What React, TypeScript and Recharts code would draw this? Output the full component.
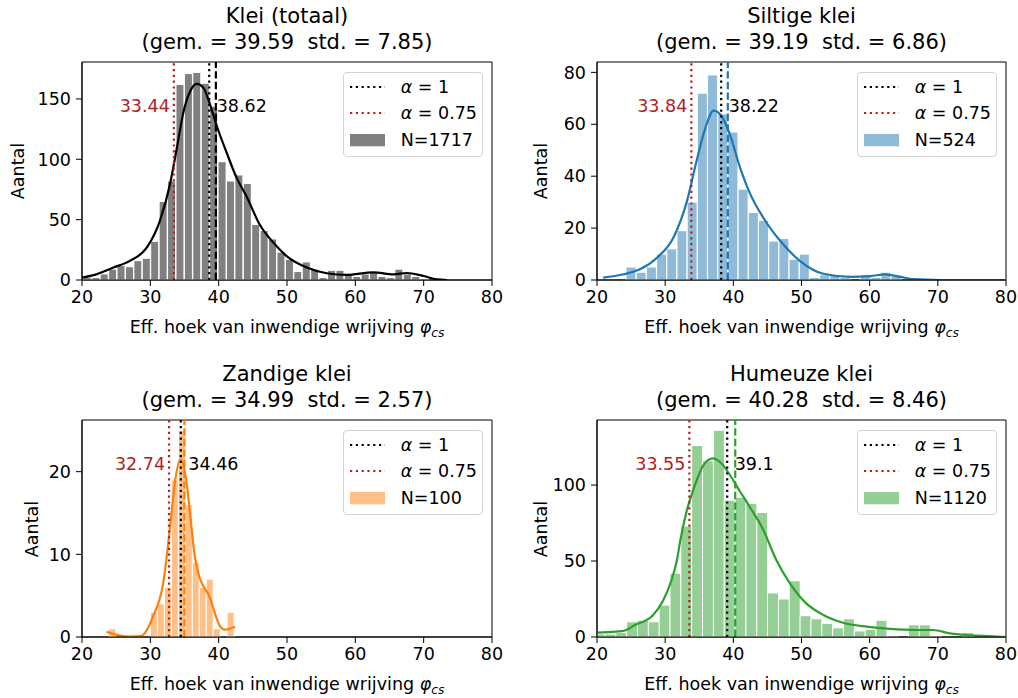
import React from 'react';
import { ComposedChart, Bar, Line, XAxis, YAxis, ReferenceLine, ReferenceArea } from 'recharts';

const FONT = '"DejaVu Sans", "Liberation Sans", sans-serif';
const FS = 17.5;
const TITLE_FS = 21;
const RED = '#b22222';

const xTicks = [20, 30, 40, 50, 60, 70, 80];
const xLabelMain = 'Eff. hoek van inwendige wrijving ';
const yLabelText = 'Aantal';

// ---------- Klei (totaal) ----------
const kleiTitle = 'Klei (totaal)';
const kleiStats = '(gem. = 39.59  std. = 7.85)';
const kleiN = 1717;
const kleiBinStart = 20.2;
const kleiBinWidth = 1.232;
const kleiCounts = [2, 2, 5, 9, 12, 11, 16, 18, 32, 65, 82, 162, 171, 172, 163, 144, 98, 82, 87, 80, 46, 41, 34, 23, 17, 7, 15, 9, 2, 8, 8, 5, 3, 5, 7, 3, 2, 9, 5, 3, 1];
const kleiKdeX = [20, 22.1, 24.6, 27.0, 29.5, 31.4, 32.9, 33.9, 34.8, 35.8, 36.8, 37.8, 38.7, 39.7, 41.2, 42.6, 44.1, 46.0, 48.0, 49.9, 52.9, 55.8, 58.7, 62.6, 65.6, 67.5, 70.0, 71.9, 73.4];
const kleiKdeY = [2, 4.7, 10.3, 15.8, 27, 49, 80, 110, 138, 156, 162.5, 159, 146, 128, 105, 85, 69, 46, 31, 20, 10.3, 5.6, 4.2, 6.4, 4.7, 5.8, 3.3, 0.5, 0];
const kleiYTicks = [0, 50, 100, 150];
const kleiYMax = 180.6;
const kleiAlpha1 = 38.62;
const kleiAlpha075 = 33.44;
const kleiMean = 39.59;

// ---------- Siltige klei ----------
const siltTitle = 'Siltige klei';
const siltStats = '(gem. = 39.19  std. = 6.86)';
const siltN = 524;
const siltBinStart = 24.26;
const siltBinWidth = 1.495;
const siltCounts = [5, 3, 5, 10, 12, 19, 30, 72, 79, 64, 57, 35, 26, 23, 15, 16, 8, 10, 1, 2, 2, 1, 0, 2, 1, 3, 2];
const siltKdeX = [20.9, 23.9, 26.3, 28.8, 31.2, 33.2, 34.6, 35.9, 37.1, 38.3, 39.5, 41.0, 42.5, 44.4, 46.9, 49.8, 53.2, 57.2, 60.1, 62.3, 64.5, 66.4, 70.3, 80];
const siltKdeY = [0.9, 2.2, 4.1, 8.6, 16.3, 30.4, 45.8, 58.6, 65.3, 63.1, 56, 43.2, 33, 24, 15, 7.3, 2.4, 1.2, 1.5, 2.2, 1.2, 0.3, 0, 0];
const siltYTicks = [0, 20, 40, 60, 80];
const siltYMax = 84;
const siltAlpha1 = 38.22;
const siltAlpha075 = 33.84;
const siltMean = 39.19;

// ---------- Zandige klei ----------
const zandTitle = 'Zandige klei';
const zandStats = '(gem. = 34.99  std. = 2.57)';
const zandN = 100;
const zandBinStart = 23.9;
const zandBinWidth = 1.02;
const zandCounts = [1, 0, 0, 0, 0, 0, 3, 4, 6, 19, 25, 16, 9, 6, 7, 1, 0, 3];
const zandKdeX = [23.6, 25.1, 27.0, 28.5, 29.0, 30.4, 31.9, 32.9, 33.6, 34.4, 35.3, 36.0, 36.5, 37.0, 38.7, 40.2, 40.9, 42.4];
const zandKdeY = [0.65, 0.25, 0.05, 0.1, 0.3, 2.5, 6.6, 13.4, 18.7, 21.5, 18.7, 13.4, 9.8, 7.8, 4.8, 1.3, 0.9, 1.25];
const zandYTicks = [0, 10, 20];
const zandYMax = 26.25;
const zandAlpha1 = 34.46;
const zandAlpha075 = 32.74;
const zandMean = 34.99;

// ---------- Humeuze klei ----------
const humTitle = 'Humeuze klei';
const humStats = '(gem. = 40.28  std. = 8.46)';
const humN = 1120;
const humBinStart = 19.58;
const humBinWidth = 1.59;
const humCounts = [2, 2, 3, 10, 11, 10, 21, 42, 73, 126, 116, 136, 90, 92, 88, 82, 29, 25, 37, 14, 12, 9, 6, 12, 4, 5, 11, 1, 0, 8, 8, 1, 0, 0, 3];
const humKdeX = [20, 22.8, 23.9, 25.5, 28.2, 29.7, 30.9, 31.7, 32.2, 33.1, 34.3, 35.6, 37.0, 38.3, 39.5, 41.0, 42.4, 44.4, 46.3, 48.3, 50.7, 53.2, 56.1, 59.6, 63.0, 66.9, 69.3, 71.8, 74.2, 76.7, 80];
const humKdeY = [2.9, 3.6, 4.0, 7.7, 14.3, 24, 37, 50, 63, 82, 99, 113, 117.5, 114, 106.6, 95.6, 85.7, 70.4, 50.7, 35.3, 22.1, 14.5, 9.4, 6.8, 5.3, 4.6, 4.6, 2.4, 1.3, 0.7, 0];
const humYTicks = [0, 50, 100];
const humYMax = 142.8;
const humAlpha1 = 39.1;
const humAlpha075 = 33.55;
const humMean = 40.28;

type PanelSpec = {
  title: string; stats: string; n: number;
  binStart: number; binWidth: number; counts: number[];
  kdeX: number[]; kdeY: number[];
  yTicks: number[]; yMax: number;
  alpha1: number; alpha075: number; mean: number;
  barColor: string; lineColor: string; meanColor: string;
  left: number; top: number; right: number; bottom: number; yLabelOffset: number;
};

const panels: PanelSpec[] = [
  { title: kleiTitle, stats: kleiStats, n: kleiN, binStart: kleiBinStart, binWidth: kleiBinWidth, counts: kleiCounts, kdeX: kleiKdeX, kdeY: kleiKdeY, yTicks: kleiYTicks, yMax: kleiYMax, alpha1: kleiAlpha1, alpha075: kleiAlpha075, mean: kleiMean, barColor: '#808080', lineColor: '#000000', meanColor: '#000000', left: 82, top: 62, right: 492, bottom: 280, yLabelOffset: 64 },
  { title: siltTitle, stats: siltStats, n: siltN, binStart: siltBinStart, binWidth: siltBinWidth, counts: siltCounts, kdeX: siltKdeX, kdeY: siltKdeY, yTicks: siltYTicks, yMax: siltYMax, alpha1: siltAlpha1, alpha075: siltAlpha075, mean: siltMean, barColor: '#8fbbd9', lineColor: '#1f77b4', meanColor: '#1f77b4', left: 597, top: 62, right: 1006, bottom: 280, yLabelOffset: 56 },
  { title: zandTitle, stats: zandStats, n: zandN, binStart: zandBinStart, binWidth: zandBinWidth, counts: zandCounts, kdeX: zandKdeX, kdeY: zandKdeY, yTicks: zandYTicks, yMax: zandYMax, alpha1: zandAlpha1, alpha075: zandAlpha075, mean: zandMean, barColor: '#ffbf86', lineColor: '#ff7f0e', meanColor: '#ff7f0e', left: 82, top: 420, right: 492, bottom: 637, yLabelOffset: 50 },
  { title: humTitle, stats: humStats, n: humN, binStart: humBinStart, binWidth: humBinWidth, counts: humCounts, kdeX: humKdeX, kdeY: humKdeY, yTicks: humYTicks, yMax: humYMax, alpha1: humAlpha1, alpha075: humAlpha075, mean: humMean, barColor: '#95cf95', lineColor: '#2ca02c', meanColor: '#2ca02c', left: 597, top: 420, right: 1006, bottom: 637, yLabelOffset: 56 },
];

const DOT = '2.2 3.6';
const DASH = '7.4 3.2';

function makeLabel(text: string, color: string, side: 'left' | 'right') {
  return (props: any) => {
    const vb = props.viewBox || { x: 0, y: 0, width: 0, height: 0 };
    const x = side === 'left' ? vb.x - 4 : vb.x + 7.5;
    const y = vb.y + vb.height * 0.2;
    return (
      <text x={x} y={y} dy="0.36em" textAnchor={side === 'left' ? 'end' : 'start'} fill={color} fontSize={FS} fontFamily={FONT}>
        {text}
      </text>
    );
  };
}

function PanelChart({ p }: { p: PanelSpec }) {
  const YW = 70, XH = 40, MT = 8, MR = 22;
  const plotW = p.right - p.left;
  const plotH = p.bottom - p.top;
  const bins = p.counts.map((c, i) => ({ x: p.binStart + (i + 0.5) * p.binWidth, count: c }));
  const kde = p.kdeX.map((x, i) => ({ x, kde: p.kdeY[i] }));
  const tickStyle = { fill: '#000', fontSize: FS, fontFamily: FONT };
  return (
    <div style={{ position: 'absolute', left: p.left - YW, top: p.top - MT }}>
      <ComposedChart
        width={YW + plotW + MR}
        height={MT + plotH + XH}
        data={bins}
        margin={{ top: MT, right: MR, bottom: 0, left: 0 }}
        barCategoryGap={0}
        barGap={0}
      >
        <XAxis xAxisId="main" type="number" dataKey="x" domain={[20, 80]} ticks={xTicks} allowDataOverflow interval={0} height={XH} tickSize={6} tickMargin={5} stroke="#000" tick={tickStyle} />
        <XAxis xAxisId="kde" orientation="top" height={0} type="number" dataKey="x" domain={[20, 80]} allowDataOverflow hide />
        <YAxis type="number" domain={[0, p.yMax]} ticks={p.yTicks} allowDataOverflow interval={0} width={YW} tickSize={6} tickMargin={5} stroke="#000" tick={tickStyle} />
        <Bar xAxisId="main" dataKey="count" fill={p.barColor} stroke="#ffffff" strokeWidth={1} isAnimationActive={false} />
        <Line xAxisId="kde" data={kde} dataKey="kde" type="monotone" stroke={p.lineColor} strokeWidth={2.2} dot={false} activeDot={false} isAnimationActive={false} />
        <ReferenceLine xAxisId="main" x={p.alpha1} stroke="#000" strokeWidth={2.2} strokeDasharray={DOT} label={makeLabel(String(p.alpha1), '#000', 'right')} />
        <ReferenceLine xAxisId="main" x={p.alpha075} stroke={RED} strokeWidth={2.2} strokeDasharray={DOT} label={makeLabel(String(p.alpha075), RED, 'left')} />
        <ReferenceLine xAxisId="main" x={p.mean} stroke={p.meanColor} strokeWidth={2.2} strokeDasharray={DASH} />
        <ReferenceArea xAxisId="main" x1={20} x2={80} y1={0} y2={p.yMax} fill="none" fillOpacity={0} stroke="#000" strokeWidth={1} />
      </ComposedChart>
    </div>
  );
}

function PanelText({ p }: { p: PanelSpec }) {
  const plotW = p.right - p.left;
  const cy = (p.top + p.bottom) / 2;
  const legW = 140, legH = 85;
  const legLeft = p.right - 9.3 - legW;
  const legTop = p.top + 9.7;
  const rows = [15, 41.7, 68.3];
  const textStyle: React.CSSProperties = { position: 'absolute', left: 57, fontSize: FS, lineHeight: '20px', whiteSpace: 'pre', color: '#000' };
  return (
    <>
      <div style={{ position: 'absolute', left: p.left, top: p.top - 58.6, width: plotW, textAlign: 'center', fontSize: TITLE_FS, lineHeight: '26px', whiteSpace: 'pre', color: '#000' }}>
        {p.title}
        {'\n'}
        {p.stats}
      </div>
      <div style={{ position: 'absolute', left: p.left, top: p.bottom + 37, width: plotW, textAlign: 'center', fontSize: FS, lineHeight: '20px', whiteSpace: 'pre', color: '#000' }}>
        {xLabelMain}
        <span style={{ fontStyle: 'italic' }}>φ</span>
        <span style={{ fontStyle: 'italic', fontSize: '0.7em', position: 'relative', top: '0.35em' }}>cs</span>
      </div>
      <div style={{ position: 'absolute', left: p.left - p.yLabelOffset - 50, top: cy - 10, width: 100, height: 20, textAlign: 'center', fontSize: FS, lineHeight: '20px', transform: 'rotate(-90deg)', color: '#000' }}>
        {yLabelText}
      </div>
      <div style={{ position: 'absolute', left: legLeft, top: legTop, width: legW, height: legH, boxSizing: 'border-box', border: '1px solid #d3d3d3', borderRadius: 4, background: 'rgba(255,255,255,0.8)' }}>
        <svg style={{ position: 'absolute', left: 6.3, top: rows[0] - 3 - 1 }} width={36} height={6}>
          <line x1={0} y1={3} x2={35} y2={3} stroke="#000" strokeWidth={2.2} strokeDasharray={DOT} />
        </svg>
        <div style={{ ...textStyle, top: rows[0] - 1 - 10 }}>
          <span style={{ fontStyle: 'italic' }}>α</span>{' = 1'}
        </div>
        <svg style={{ position: 'absolute', left: 6.3, top: rows[1] - 3 - 1 }} width={36} height={6}>
          <line x1={0} y1={3} x2={35} y2={3} stroke={RED} strokeWidth={2.2} strokeDasharray={DOT} />
        </svg>
        <div style={{ ...textStyle, top: rows[1] - 1 - 10 }}>
          <span style={{ fontStyle: 'italic' }}>α</span>{' = 0.75'}
        </div>
        <svg style={{ position: 'absolute', left: 6.3, top: rows[2] - 6 - 1 }} width={36} height={13}>
          <rect x={0} y={0} width={35} height={12.3} fill={p.barColor} />
        </svg>
        <div style={{ ...textStyle, top: rows[2] - 1 - 10 }}>{'N=' + p.n}</div>
      </div>
    </>
  );
}

export default function App() {
  return (
    <div style={{ position: 'absolute', left: 0, top: 0, width: 1018, height: 698, background: '#fff', fontFamily: FONT, overflow: 'hidden' }}>
      {panels.map((p, i) => (
        <PanelChart key={'c' + i} p={p} />
      ))}
      {panels.map((p, i) => (
        <PanelText key={'t' + i} p={p} />
      ))}
    </div>
  );
}
